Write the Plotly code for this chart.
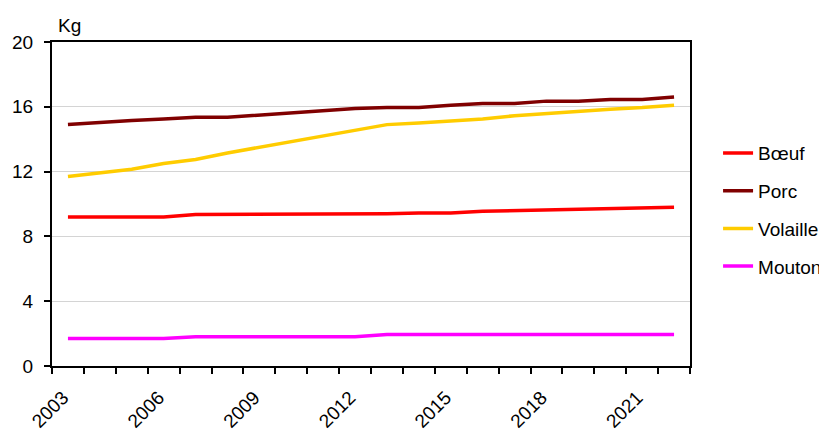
"""Consommation de viande par habitant (kg), 2003-2022."""

import plotly.graph_objects as go

years = list(range(2003, 2023))

boeuf = [9.2, 9.2, 9.2, 9.2, 9.35, 9.35, 9.35, 9.35, 9.35, 9.35,
         9.4, 9.45, 9.45, 9.55, 9.6, 9.6, 9.7, 9.7, 9.8, 9.8]
porc = [14.9, 15.05, 15.15, 15.25, 15.35, 15.35, 15.5, 15.6, 15.75, 15.9,
        15.95, 15.95, 16.1, 16.2, 16.2, 16.35, 16.35, 16.45, 16.45, 16.6]
volaille = [11.7, 11.9, 12.15, 12.5, 12.75, 13.15, 13.5, 13.8, 14.2, 14.55,
            14.9, 15.0, 15.1, 15.25, 15.45, 15.6, 15.75, 15.85, 15.95, 16.1]
mouton = [1.7, 1.7, 1.7, 1.7, 1.8, 1.8, 1.8, 1.8, 1.8, 1.8,
          1.95, 1.95, 1.95, 1.95, 1.95, 1.95, 1.95, 1.95, 1.95, 1.95]

series = [
    ("Bœuf", boeuf, "#FF0000"),
    ("Porc", porc, "#800000"),
    ("Volaille", volaille, "#FFCC00"),
    ("Mouton", mouton, "#FF00FF"),
]

label_years = years[::3]

FONT = "Liberation Sans, Arial, sans-serif"

fig = go.Figure()
for name, values, color in series:
    fig.add_trace(go.Scatter(
        x=years, y=values,
        mode="lines",
        name=name,
        legendgroup=name,
        line=dict(color=color, width=3.5),
    ))

# the page adds an 8px body margin, so margins are trimmed to compensate
fig.update_layout(
    width=827,
    height=435,
    plot_bgcolor="white",
    paper_bgcolor="white",
    font=dict(family=FONT, size=19, color="black"),
    margin=dict(l=44, r=145, t=34, b=77),
    showlegend=True,
    # container refs so the legend does not widen the right margin
    legend=dict(
        xref="container", yref="container",
        x=0.8586, y=0.71, xanchor="left", yanchor="top",
        tracegroupgap=10,
        font=dict(size=19),
        bgcolor="rgba(0,0,0,0)",
    ),
)

fig.update_xaxes(
    range=[2002.5, 2022.5],
    tickvals=label_years,
    ticktext=[str(y) for y in label_years],
    tickangle=-45,
    ticks="",
    ticklabelshift=-5,
    ticklabelstandoff=11,
    automargin=False,
    showgrid=False,
    showline=True, linecolor="black", linewidth=2, mirror=True,
    zeroline=False,
    minor=dict(tick0=2002.5, dtick=1, ticks="outside", ticklen=6,
               tickcolor="black", tickwidth=1.5, showgrid=False),
)

fig.update_yaxes(
    range=[0, 20],
    tickvals=[0, 4, 8, 12, 16, 20],
    ticks="outside", ticklen=6, tickcolor="black", tickwidth=1.5,
    ticklabelstandoff=7,
    automargin=False,
    showgrid=True, gridcolor="#d4d4d4", gridwidth=1,
    showline=True, linecolor="black", linewidth=2, mirror=True,
    zeroline=False,
)

fig.add_annotation(
    text="Kg", xref="paper", yref="paper",
    x=0.0, y=1.0, xanchor="left", yanchor="bottom",
    xshift=4, yshift=4,
    showarrow=False, font=dict(family=FONT, size=19),
)

fig.write_html("out.html")
